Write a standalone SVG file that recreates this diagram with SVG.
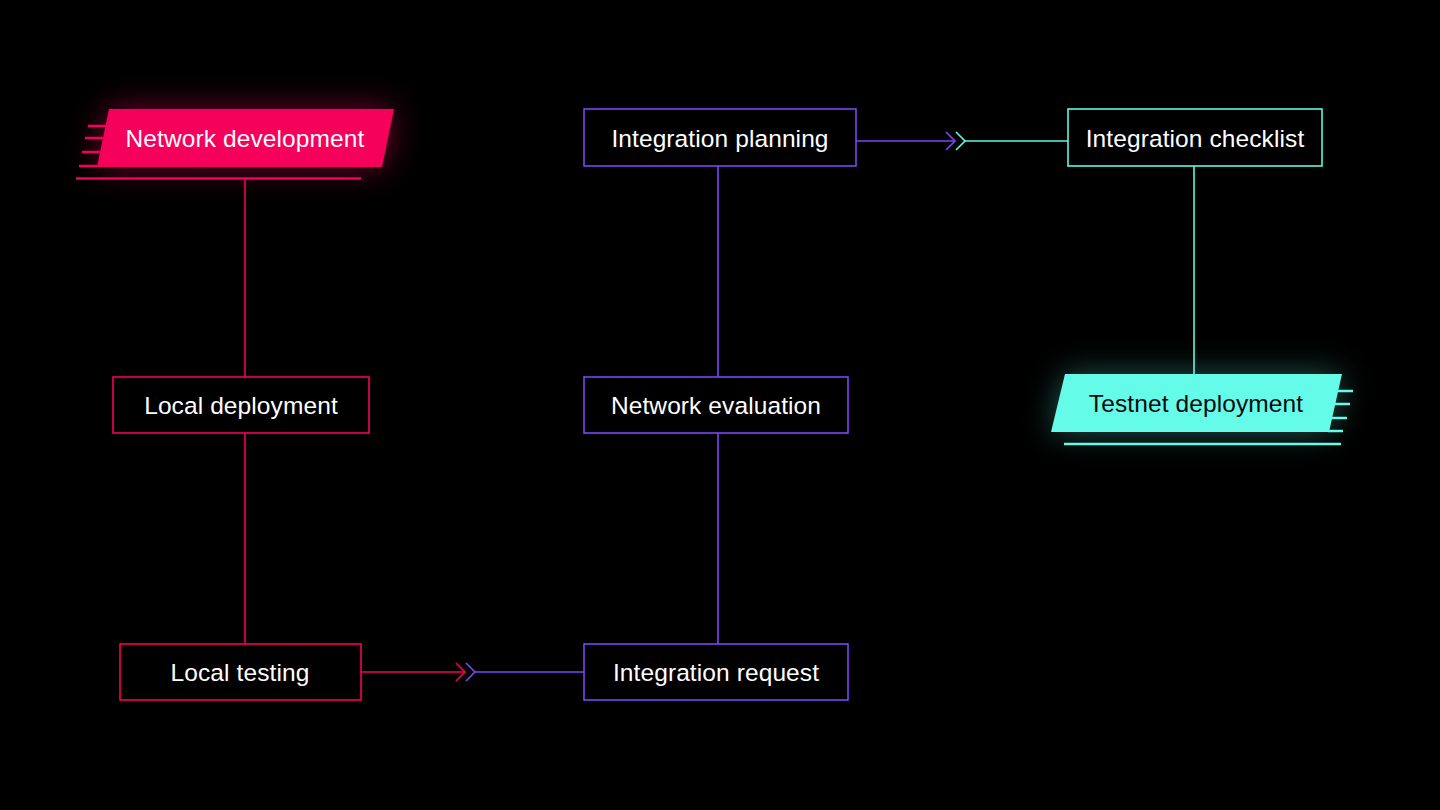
<svg xmlns="http://www.w3.org/2000/svg" width="1440" height="810" viewBox="0 0 1440 810">
<defs>
<style>
.lbl{font-family:"Liberation Sans",Arial,sans-serif;font-size:24.5px;fill:#ffffff;text-anchor:middle;letter-spacing:0.1px}
.red{stroke:#F5005A;fill:none;stroke-width:1.6}
.pur{stroke:#7C45F5;fill:none;stroke-width:1.6}
.teal{stroke:#5EF8E4;fill:none;stroke-width:1.6}
.box{fill:#000}
</style>
<filter id="glow" x="-40%" y="-120%" width="180%" height="340%">
<feGaussianBlur stdDeviation="16"/>
</filter>
</defs>
<rect width="1440" height="810" fill="#000"/>

<g id="connectors">
<line class="red" x1="245" y1="179" x2="245" y2="377"/>
<line class="red" x1="245" y1="433" x2="245" y2="644"/>
<line class="red" x1="361" y1="672" x2="465" y2="672"/>
<polyline class="red" points="456,663 465,672 456,681"/>
<polyline class="pur" points="466,663 475,672 466,681"/>
<line class="pur" x1="475" y1="672" x2="584" y2="672"/>
<line class="pur" x1="718" y1="166" x2="718" y2="377"/>
<line class="pur" x1="718" y1="433" x2="718" y2="644"/>
<line class="pur" x1="856" y1="141" x2="955" y2="141"/>
<polyline class="pur" points="946,132 955,141 946,150"/>
<polyline class="teal" points="956,132 965,141 956,150"/>
<line class="teal" x1="965" y1="141" x2="1068" y2="141"/>
<line class="teal" x1="1194" y1="166" x2="1194" y2="374"/>
</g>

<g id="network-development">
<polygon points="109,109 394,109 382,167 97,167" fill="#F5005A" opacity="0.5" filter="url(#glow)"/>
<polygon points="109,109 394,109 382,167 97,167" fill="#F5005A"/>
<g stroke="#F5005A" stroke-width="2.5">
<line x1="88" y1="126" x2="106" y2="126"/>
<line x1="85" y1="138" x2="103" y2="138"/>
<line x1="82" y1="152" x2="100" y2="152"/>
<line x1="79" y1="166" x2="98" y2="166"/>
<line x1="76" y1="178.5" x2="361" y2="178.5"/>
</g>
<text class="lbl" x="245" y="147">Network development</text>
</g>

<g id="local-deployment">
<rect class="red box" x="113" y="377" width="256" height="56"/>
<text class="lbl" x="241" y="414">Local deployment</text>
</g>

<g id="local-testing">
<rect class="red box" x="120" y="644" width="241" height="56"/>
<text class="lbl" x="240" y="681">Local testing</text>
</g>

<g id="integration-planning">
<rect class="pur box" x="584" y="109" width="272" height="57"/>
<text class="lbl" x="720" y="147">Integration planning</text>
</g>

<g id="network-evaluation">
<rect class="pur box" x="584" y="377" width="264" height="56"/>
<text class="lbl" x="716" y="414">Network evaluation</text>
</g>

<g id="integration-request">
<rect class="pur box" x="584" y="644" width="264" height="56"/>
<text class="lbl" x="716" y="681">Integration request</text>
</g>

<g id="integration-checklist">
<rect class="teal box" x="1068" y="109" width="254" height="57"/>
<text class="lbl" x="1195" y="147">Integration checklist</text>
</g>

<g id="testnet-deployment">
<polygon points="1065,374 1342,374 1329,432 1051,432" fill="#5EF8E4" opacity="0.35" filter="url(#glow)"/>
<polygon points="1065,374 1342,374 1329,432 1051,432" fill="#64FBE8"/>
<g stroke="#64FBE8" stroke-width="2.5">
<line x1="1337" y1="391" x2="1353" y2="391"/>
<line x1="1334" y1="404" x2="1350" y2="404"/>
<line x1="1331" y1="418" x2="1347" y2="418"/>
<line x1="1328" y1="431" x2="1343" y2="431"/>
<line x1="1064" y1="444" x2="1341" y2="444"/>
</g>
<text class="lbl" x="1196" y="412" style="fill:#0a0a0a">Testnet deployment</text>
</g>
</svg>
